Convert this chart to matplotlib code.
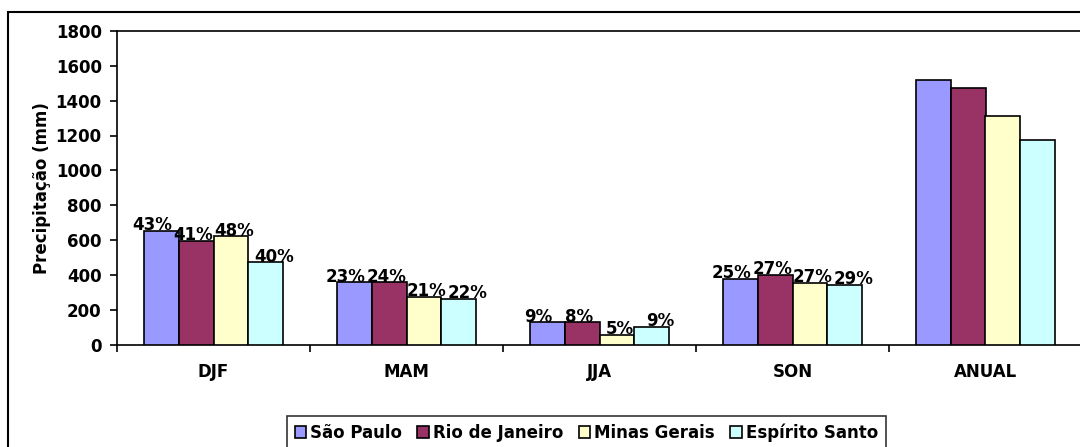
from matplotlib import pyplot as plt
from matplotlib.patches import Rectangle

import numpy as np

categories = ["DJF", "MAM", "JJA", "SON", "ANUAL"]
states = ["São Paulo", "Rio de Janeiro", "Minas Gerais", "Espírito Santo"]

sao_paulo = [654, 356, 128, 377, 1520]
rio = [597, 356, 128, 400, 1474]
minas = [621, 272, 57, 354, 1313]
espirito = [471, 262, 103, 343, 1177]

pct_sp = ["43%", "23%", "9%", "25%"]
pct_rj = ["41%", "24%", "8%", "27%"]
pct_mg = ["48%", "21%", "5%", "27%"]
pct_es = ["40%", "22%", "9%", "29%"]

colors = ["#9999FF", "#993366", "#FFFFCC", "#CCFFFF"]

plt.rcParams["font.family"] = ["DejaVu Sans"]
plt.rcParams["font.weight"] = "bold"
fs = 12

fig = plt.figure(figsize=(10.8, 4.47), dpi=100, facecolor="white")
W, H = 1080, 447
ax = fig.add_axes([117 / W, 1 - 344.5 / H, (1082 - 117) / W, (344.5 - 31) / H])

series = [sao_paulo, rio, minas, espirito]
pcts = [pct_sp, pct_rj, pct_mg, pct_es]
x = np.arange(len(categories))
bw = 0.181
for i, (vals, col) in enumerate(zip(series, colors)):
    pos = x + (i - 1.5) * bw
    ax.bar(pos, vals, width=bw, color=col, edgecolor="black", linewidth=1.2,
           label=states[i], zorder=3)
    for j, lab in enumerate(pcts[i]):
        ax.text(pos[j] + (i - 1.5) * 0.03, vals[j] + 4, lab, ha="center", va="baseline",
                fontsize=fs, fontweight="bold")

ax.set_xlim(-0.5, len(categories) - 0.5)
ax.set_ylim(0, 1800)
ax.set_yticks(np.arange(0, 1801, 200))
ax.set_xticks(np.arange(-0.5, len(categories), 1))
ax.set_xticklabels([])
ax.set_xticks(x, minor=True)
ax.set_xticklabels(categories, minor=True)
ax.tick_params(axis="x", which="minor", length=0, pad=13, labelsize=fs)
ax.tick_params(axis="x", which="major", length=5, width=1.2, direction="out")
ax.tick_params(axis="y", length=5, width=1.2, direction="out", labelsize=fs, pad=6)
for lab in ax.get_xticklabels(minor=True) + ax.get_yticklabels():
    lab.set_fontweight("bold")

for s in ["left", "bottom", "top", "right"]:
    ax.spines[s].set_linewidth(1.2)

ax.set_ylabel("Precipitação (mm)", fontsize=fs, fontweight="bold", labelpad=3)

leg = fig.legend(loc="upper left", bbox_to_anchor=(287 / W, 1 - 416 / H), ncol=4,
                 frameon=True, fancybox=False, edgecolor="black", fontsize=fs,
                 handlelength=0.7, handleheight=0.7, handletextpad=0.25,
                 columnspacing=0.9, borderpad=0.45, borderaxespad=0)
leg.get_frame().set_linewidth(1.2)
for t in leg.get_texts():
    t.set_fontweight("bold")

# outer chart border (cropped on right and bottom)
fig.patches.append(Rectangle((8 / W, -0.1), 1.2, 1.1 - 12 / H, transform=fig.transFigure,
                             fill=False, edgecolor="black", linewidth=1.5))

plt.savefig("out.png", dpi=100)
plt.close()
